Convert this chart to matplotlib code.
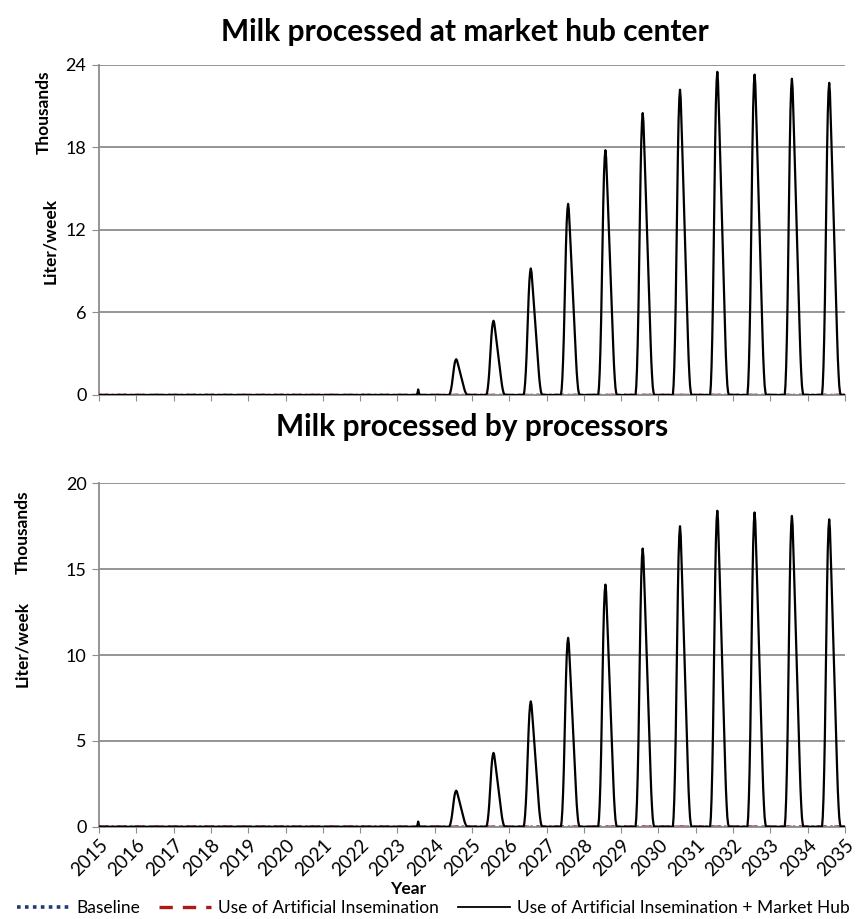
import numpy as np
import matplotlib.pyplot as plt

plt.rcParams['font.family'] = ['Lato', 'DejaVu Sans']

years = list(range(2015, 2036))
weeks_per_year = 52

# peak weekly volume for each season (thousand liter/week)
peak_years = list(range(2024, 2035))
hub_peaks = [2.6, 5.4, 9.2, 13.9, 17.8, 20.5, 22.2, 23.5, 23.3, 23.0, 22.7]
proc_peaks = [2.1, 4.3, 7.3, 11.0, 14.1, 16.2, 17.5, 18.4, 18.3, 18.1, 17.9]
# small first blip in 2023
blip_year = 2023
hub_blip = 0.4
proc_blip = 0.3

# shape of one season (fraction of peak), weekly, starting 10 weeks before the peak
season_shape = [0.0, 0.03, 0.09, 0.18, 0.3, 0.45, 0.62, 0.78, 0.9, 0.97, 1.0,
                0.97, 0.9, 0.82, 0.74, 0.66, 0.58, 0.5, 0.42, 0.34, 0.26,
                0.19, 0.12, 0.07, 0.03, 0.01, 0.0]
blip_shape = [0.0, 0.35, 1.0, 0.35, 0.0]
peak_week = 30   # week of the year where the season tops out


def build_series(peaks, blip):
    n = (years[-1] - years[0]) * weeks_per_year + 1
    vals = np.zeros(n)
    for yr, pk in zip(peak_years, peaks):
        start = (yr - years[0]) * weeks_per_year + peak_week - 10
        for i, f in enumerate(season_shape):
            if start + i < n:
                vals[start + i] = pk * f
    start = (blip_year - years[0]) * weeks_per_year + 27
    for i, f in enumerate(blip_shape):
        vals[start + i] = blip * f
    return vals


hub = build_series(hub_peaks, hub_blip)
proc = build_series(proc_peaks, proc_blip)
t = years[0] + np.arange(len(hub)) / weeks_per_year
zeros = np.zeros(len(hub))

fig = plt.figure(figsize=(8.67, 9.19), dpi=100)
ax1 = fig.add_axes([0.1142, 0.5702, 0.8604, 0.3591])
ax2 = fig.add_axes([0.1142, 0.1004, 0.8604, 0.3737])

panels = [
    (ax1, hub, [0, 6, 12, 18, 24]),
    (ax2, proc, [0, 5, 10, 15, 20]),
]

for ax, series, yticks in panels:
    ax.plot(t, zeros, color='#1f3b73', lw=1.8, ls=(0, (1, 1.5)), zorder=2)
    ax.plot(t, zeros, color='#b01818', lw=1.8, ls=(0, (4, 3)), zorder=2)
    ax.plot(t, series, color='black', lw=1.6, zorder=3)
    ax.set_xlim(years[0], years[-1])
    ax.set_ylim(yticks[0], yticks[-1])
    ax.set_yticks(yticks)
    ax.set_xticks(years)
    ax.yaxis.grid(True, color='#8c8c8c', lw=1.3)
    ax.set_axisbelow(True)
    for s in ['top', 'right']:
        ax.spines[s].set_visible(False)
    ax.spines['left'].set_color('#8c8c8c')
    ax.spines['left'].set_linewidth(1.3)
    ax.spines['bottom'].set_color('#8c8c8c')
    ax.spines['bottom'].set_linewidth(1.3)
    ax.tick_params(axis='y', length=5, color='#8c8c8c', labelsize=13, pad=4)
    ax.tick_params(axis='x', length=4, color='#8c8c8c', labelsize=13.5, pad=3)

ax1.tick_params(axis='x', labelbottom=False)
for lab in ax2.get_xticklabels():
    lab.set_rotation(45)
    lab.set_ha('right')
    lab.set_rotation_mode('anchor')

fig.text(465 / 867, 1 - 32 / 919, "Milk processed at market hub center", fontsize=21.5,
         fontweight='bold', ha='center', va='center')
fig.text(472 / 867, 1 - 427 / 919, "Milk processed by processors", fontsize=21.5,
         fontweight='bold', ha='center', va='center')

fig.text(0.050, 1 - 112 / 919, "Thousands", rotation=90, fontsize=12.5, fontweight='bold',
         ha='center', va='center')
fig.text(0.058, 1 - 241 / 919, "Liter/week", rotation=90, fontsize=12.5, fontweight='bold',
         ha='center', va='center')
fig.text(0.026, 1 - 532 / 919, "Thousands", rotation=90, fontsize=12.5, fontweight='bold',
         ha='center', va='center')
fig.text(0.026, 1 - 644 / 919, "Liter/week", rotation=90, fontsize=12.5, fontweight='bold',
         ha='center', va='center')
fig.text(408 / 867, 1 - 889 / 919, "Year", fontsize=12.5, fontweight='bold', ha='center', va='center')

handles = [
    plt.Line2D([], [], color='#1f3b73', lw=2.6, ls=(0, (1, 1.2))),
    plt.Line2D([], [], color='#b01818', lw=2.4, ls=(0, (4, 3))),
    plt.Line2D([], [], color='black', lw=1.3),
]
labels = ["Baseline", "Use of Artificial Insemination", "Use of Artificial Insemination + Market Hub"]
fig.legend(handles, labels, loc='center', bbox_to_anchor=(0.5, 1 - 908 / 919), ncol=3,
           frameon=False, fontsize=12.5, handlelength=3.0, columnspacing=1.1, handletextpad=0.4,
           borderpad=0.1, borderaxespad=0.1)

fig.savefig("out.png", dpi=100)
